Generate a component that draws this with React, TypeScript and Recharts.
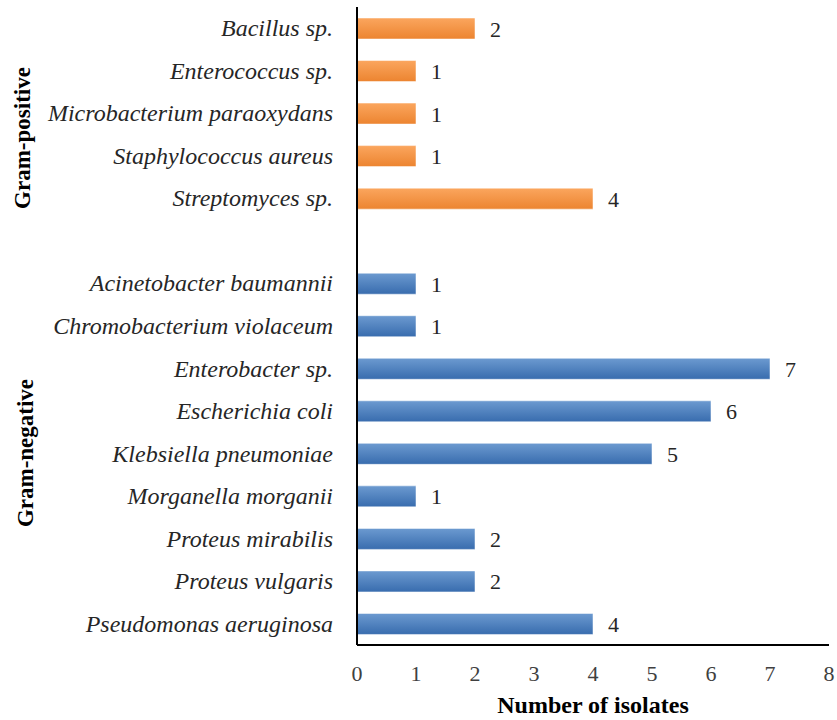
import React from "react";
import {
  BarChart,
  Bar,
  XAxis,
  YAxis,
  Cell,
  LabelList,
  Customized,
} from "recharts";

// species, top to bottom; "" is the gap between the two groups
const species = [
  "Bacillus sp.",
  "Enterococcus sp.",
  "Microbacterium paraoxydans",
  "Staphylococcus aureus",
  "Streptomyces sp.",
  "",
  "Acinetobacter baumannii",
  "Chromobacterium violaceum",
  "Enterobacter sp.",
  "Escherichia coli",
  "Klebsiella pneumoniae",
  "Morganella morganii",
  "Proteus mirabilis",
  "Proteus vulgaris",
  "Pseudomonas aeruginosa",
];

const isolates: (number | null)[] = [2, 1, 1, 1, 4, null, 1, 1, 7, 6, 5, 1, 2, 2, 4];

const gramGroup = [
  "positive",
  "positive",
  "positive",
  "positive",
  "positive",
  "",
  "negative",
  "negative",
  "negative",
  "negative",
  "negative",
  "negative",
  "negative",
  "negative",
  "negative",
];

const xTicks = [0, 1, 2, 3, 4, 5, 6, 7, 8];

const data = species.map((name, i) => ({
  name,
  count: isolates[i],
  group: gramGroup[i],
}));

const font = "'Liberation Serif', 'DejaVu Serif', serif";

function SpeciesTick(props: any) {
  const { x, y, payload } = props;
  return (
    <text
      x={x}
      y={y}
      dy={8}
      textAnchor="end"
      style={{ fontFamily: font, fontStyle: "italic", fontSize: 24, fontWeight: 400 }}
      fill="#262626"
    >
      {payload.value}
    </text>
  );
}

function NumberTick(props: any) {
  const { x, y, payload } = props;
  return (
    <text
      x={x}
      y={y}
      dy={21}
      textAnchor="middle"
      style={{ fontFamily: font, fontSize: 22, fontWeight: 400 }}
      fill="#404040"
    >
      {payload.value}
    </text>
  );
}

function ValueLabel(props: any) {
  const { x, y, width, height, value } = props;
  if (value == null) return null;
  return (
    <text
      x={x + width + 15}
      y={y + height / 2}
      dy={8}
      textAnchor="start"
      style={{ fontFamily: font, fontSize: 22, fontWeight: 400 }}
      fill="#262626"
    >
      {value}
    </text>
  );
}

function GroupLabels() {
  return (
    <g style={{ fontFamily: font, fontWeight: "bold", fontSize: 23 }} fill="#000">
      <text transform="translate(30,138) rotate(-90)" textAnchor="middle">
        Gram-positive
      </text>
      <text transform="translate(33,453) rotate(-90)" textAnchor="middle">
        Gram-negative
      </text>
    </g>
  );
}

export default function App() {
  return (
    <div style={{ position: "absolute", left: 0, top: 0, background: "#fff" }}>
      <BarChart
        width={837}
        height={720}
        data={data}
        layout="vertical"
        margin={{ top: 7, right: 8, bottom: 0, left: 0 }}
      >
        <defs>
          <linearGradient id="orangeGrad" x1="0" y1="0" x2="0" y2="1">
            <stop offset="0%" stopColor="#FBA65E" />
            <stop offset="100%" stopColor="#EC8430" />
          </linearGradient>
          <linearGradient id="blueGrad" x1="0" y1="0" x2="0" y2="1">
            <stop offset="0%" stopColor="#6C9AD0" />
            <stop offset="100%" stopColor="#386CAE" />
          </linearGradient>
        </defs>
        <XAxis
          type="number"
          domain={[0, 8]}
          ticks={xTicks}
          interval={0}
          height={75}
          tickLine={false}
          tickSize={0}
          tickMargin={15}
          axisLine={{ stroke: "#000", strokeWidth: 2 }}
          tick={<NumberTick />}
          label={{
            value: "Number of isolates",
            position: "insideBottom",
            offset: 7,
            style: { fontWeight: "bold", fontSize: 24, fill: "#000", fontFamily: font },
          }}
        />
        <YAxis
          type="category"
          dataKey="name"
          width={357}
          interval={0}
          tickLine={false}
          tickSize={0}
          tickMargin={24}
          axisLine={{ stroke: "#000", strokeWidth: 2 }}
          tick={<SpeciesTick />}
        />
        <Bar dataKey="count" barSize={21} isAnimationActive={false} stroke="#fff" strokeOpacity={0.5}>
          {data.map((d, i) => (
            <Cell
              key={i}
              fill={d.group === "positive" ? "url(#orangeGrad)" : "url(#blueGrad)"}
            />
          ))}
          <LabelList dataKey="count" content={<ValueLabel />} />
        </Bar>
        <Customized component={GroupLabels} />
      </BarChart>
    </div>
  );
}
